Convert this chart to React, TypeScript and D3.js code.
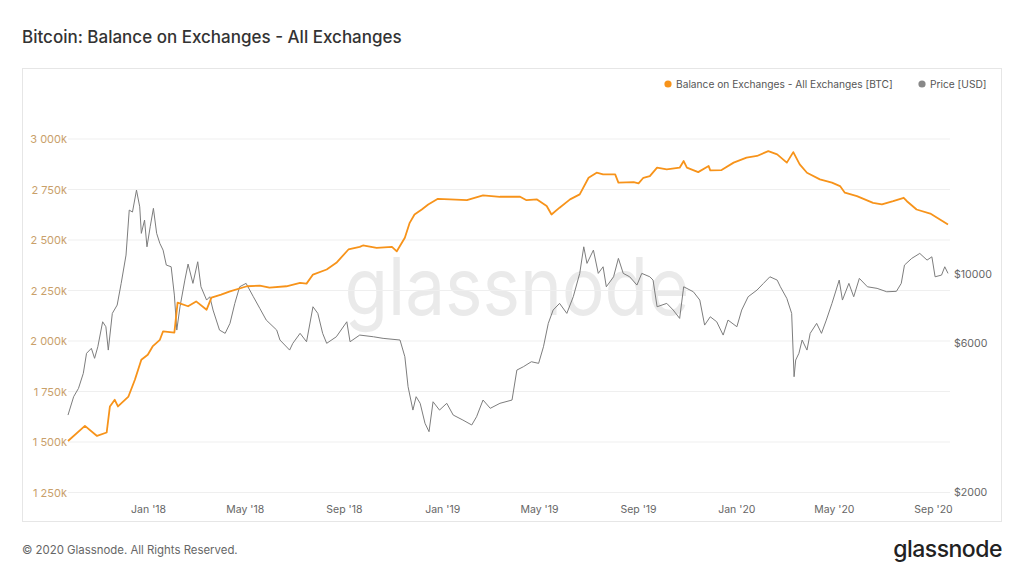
import React from "react";
import * as d3 from "d3";

const balanceDates = ["2017-09-23","2017-10-14","2017-10-29","2017-11-10","2017-11-14","2017-11-20","2017-11-24","2017-12-07","2017-12-15","2017-12-23","2017-12-31","2018-01-06","2018-01-15","2018-01-19","2018-02-02","2018-02-06","2018-02-19","2018-03-01","2018-03-14","2018-03-20","2018-04-01","2018-04-12","2018-05-03","2018-05-19","2018-05-31","2018-06-21","2018-07-08","2018-07-16","2018-07-24","2018-08-10","2018-08-22","2018-09-06","2018-09-20","2018-09-24","2018-10-11","2018-10-30","2018-11-05","2018-11-15","2018-11-21","2018-11-27","2018-12-06","2018-12-14","2018-12-26","2019-01-10","2019-01-31","2019-02-20","2019-03-13","2019-04-07","2019-04-15","2019-04-28","2019-05-10","2019-05-16","2019-05-26","2019-06-08","2019-06-20","2019-07-01","2019-07-11","2019-07-19","2019-08-03","2019-08-07","2019-08-26","2019-09-01","2019-09-07","2019-09-15","2019-09-24","2019-10-06","2019-10-22","2019-10-27","2019-10-31","2019-11-14","2019-11-27","2019-11-29","2019-12-13","2019-12-28","2020-01-13","2020-01-26","2020-02-09","2020-02-20","2020-03-03","2020-03-11","2020-03-19","2020-03-28","2020-04-13","2020-04-28","2020-05-08","2020-05-14","2020-05-29","2020-06-18","2020-06-29","2020-07-13","2020-07-26","2020-07-30","2020-08-11","2020-08-28","2020-09-09","2020-09-19"];
const balanceValues = [1505,1580,1530,1547,1676,1709,1676,1725,1808,1907,1932,1973,2006,2048,2041,2190,2172,2196,2155,2215,2230,2246,2271,2274,2264,2271,2288,2284,2329,2354,2387,2453,2466,2473,2461,2466,2444,2511,2585,2626,2651,2676,2704,2701,2697,2721,2714,2714,2697,2701,2668,2626,2660,2701,2726,2808,2833,2825,2825,2784,2787,2780,2808,2816,2858,2850,2858,2891,2858,2836,2866,2845,2846,2883,2908,2916,2940,2924,2883,2935,2874,2833,2800,2784,2767,2734,2717,2684,2676,2692,2709,2692,2651,2631,2602,2577];

const priceDates = ["2017-09-23","2017-09-30","2017-10-06","2017-10-12","2017-10-16","2017-10-22","2017-10-26","2017-10-30","2017-11-05","2017-11-09","2017-11-12","2017-11-17","2017-11-23","2017-11-28","2017-12-04","2017-12-08","2017-12-12","2017-12-17","2017-12-21","2017-12-23","2017-12-27","2017-12-30","2018-01-03","2018-01-07","2018-01-11","2018-01-15","2018-01-19","2018-01-23","2018-01-29","2018-02-02","2018-02-05","2018-02-09","2018-02-15","2018-02-19","2018-02-25","2018-03-03","2018-03-07","2018-03-14","2018-03-18","2018-03-22","2018-03-30","2018-04-06","2018-04-12","2018-04-18","2018-04-24","2018-05-02","2018-05-11","2018-05-19","2018-05-27","2018-06-09","2018-06-13","2018-06-25","2018-06-29","2018-07-08","2018-07-16","2018-07-24","2018-07-30","2018-08-05","2018-08-10","2018-08-22","2018-09-04","2018-09-08","2018-09-20","2018-10-07","2018-10-19","2018-11-09","2018-11-15","2018-11-19","2018-11-25","2018-11-29","2018-12-04","2018-12-10","2018-12-15","2018-12-20","2018-12-28","2019-01-06","2019-01-14","2019-01-26","2019-02-06","2019-02-12","2019-02-20","2019-03-01","2019-03-13","2019-03-28","2019-04-03","2019-04-11","2019-04-21","2019-04-30","2019-05-06","2019-05-12","2019-05-18","2019-05-26","2019-06-04","2019-06-12","2019-06-20","2019-06-25","2019-06-29","2019-07-07","2019-07-13","2019-07-19","2019-07-23","2019-08-01","2019-08-07","2019-08-13","2019-08-21","2019-08-30","2019-09-05","2019-09-15","2019-09-19","2019-09-24","2019-10-06","2019-10-14","2019-10-22","2019-10-27","2019-11-08","2019-11-16","2019-11-22","2019-11-29","2019-12-07","2019-12-15","2019-12-21","2020-01-01","2020-01-07","2020-01-15","2020-01-26","2020-02-03","2020-02-11","2020-02-20","2020-02-24","2020-03-03","2020-03-09","2020-03-12","2020-03-14","2020-03-18","2020-03-22","2020-03-28","2020-04-01","2020-04-09","2020-04-15","2020-04-21","2020-04-28","2020-05-07","2020-05-11","2020-05-19","2020-05-25","2020-06-01","2020-06-11","2020-06-23","2020-07-05","2020-07-17","2020-07-23","2020-07-27","2020-08-05","2020-08-15","2020-08-24","2020-08-30","2020-09-03","2020-09-11","2020-09-15","2020-09-19"];
const priceValues = [3530,4042,4298,4803,5568,5776,5366,5844,7028,6775,5703,7477,7950,9332,11498,16029,15800,18580,16420,13498,14886,12224,14171,16236,13498,12534,11930,10682,10548,8558,6610,7852,9561,10762,9332,10946,9100,8250,8454,7663,6610,6453,6946,8050,9100,9332,8454,7760,7117,6610,6142,5703,5994,6453,6064,7852,7477,6453,5994,6292,7028,6064,6371,6292,6218,6142,5430,4351,3662,4042,3849,3322,3122,3894,3662,3849,3530,3402,3280,3486,3944,3710,3849,3944,4920,5042,5232,5170,5844,6946,7663,8050,7477,8454,10046,12224,10816,11930,10046,10548,9100,9796,11222,10046,9796,9216,10046,9796,9561,7852,8050,7663,7205,9100,8770,8250,6858,7292,7028,6371,7117,6775,7663,8454,8882,9332,9796,9561,9100,8351,7477,4684,5298,5568,6142,5703,6453,6946,6453,7117,8050,9561,8250,9332,8454,9683,9100,8994,8770,8800,9332,10682,11222,11642,11080,11354,9796,9920,10548,10046];

const leftTicks = [1250, 1500, 1750, 2000, 2250, 2500, 2750, 3000];
const rightTicks = [2000, 6000, 10000];
const dateTicks = ["2018-01-01","2018-05-01","2018-09-01","2019-01-01","2019-05-01","2019-09-01","2020-01-01","2020-05-01","2020-09-01"];

const parse = d3.timeParse("%Y-%m-%d");
const FONT = "Inter, 'Noto Sans', sans-serif";
const ORANGE = "#f7931a";
const GRAY = "#7d7d7d";

export default function App() {
  const x = d3.scaleTime()
    .domain([parse("2017-09-23")!, parse("2020-09-19")!])
    .range([68, 948]);
  const yL = d3.scaleLinear().domain([1250, 3000]).range([492.5, 139]);
  const yR = d3.scaleLog().domain([2000, 10000]).range([492, 274]);

  const balance = d3.zip(balanceDates, balanceValues).map(([d, v]) => [parse(d as string)!, v as number] as [Date, number]);
  const price = d3.zip(priceDates, priceValues).map(([d, v]) => [parse(d as string)!, v as number] as [Date, number]);

  const balLine = d3.line<[Date, number]>().x(d => x(d[0])).y(d => yL(d[1]));
  const priceLine = d3.line<[Date, number]>().x(d => x(d[0])).y(d => yR(d[1]));

  const fmtK = (v: number) => d3.format(",")(v).replace(/,/g, " ") + "k";
  const fmtDate = d3.timeFormat("%b '%y");

  return (
    <svg width={1024} height={576} style={{ position: "absolute", left: 0, top: 0, background: "#fff" }} fontFamily={FONT}>
      <rect x={0} y={0} width={1024} height={576} fill="#fff" />
      <text x={22} y={43} fontSize={17} fill="#333" fontWeight={500}>Bitcoin: Balance on Exchanges - All Exchanges</text>
      <rect x={22.5} y={68.5} width={979} height={453} fill="none" stroke="#e6e6e6" strokeWidth={1} />

      {/* legend */}
      <circle cx={668} cy={84} r={3.6} fill={ORANGE} />
      <text x={676} y={87.5} fontSize={10.2} fill="#555">Balance on Exchanges - All Exchanges [BTC]</text>
      <circle cx={922} cy={84} r={3.6} fill="#888" />
      <text x={930} y={87.5} fontSize={10.2} fill="#555">Price [USD]</text>

      {/* watermark */}
      <text x={517} y={315} fontSize={80} fill="#eaeaea" textAnchor="middle" textLength={345} lengthAdjust="spacingAndGlyphs">glassnode</text>

      {/* grid */}
      {leftTicks.map(t => (
        <line key={t} x1={68} x2={950} y1={yL(t)} y2={yL(t)} stroke="#efefef" strokeWidth={1} />
      ))}
      {leftTicks.map(t => (
        <text key={"l" + t} x={67} y={yL(t) + 4} fontSize={11} fill="#c9a06a" textAnchor="end">{fmtK(t)}</text>
      ))}
      {rightTicks.map(t => (
        <text key={"r" + t} x={954} y={yR(t) + 4} fontSize={10.6} fill="#666">{"$" + t}</text>
      ))}
      {dateTicks.map(t => (
        <text key={t} x={x(parse(t)!)} y={513} fontSize={10.5} fill="#666" textAnchor="middle">{fmtDate(parse(t)!)}</text>
      ))}

      <path d={priceLine(price) || ""} fill="none" stroke={GRAY} strokeWidth={1} strokeLinejoin="round" />
      <path d={balLine(balance) || ""} fill="none" stroke={ORANGE} strokeWidth={1.8} strokeLinejoin="round" />

      {/* footer */}
      <text x={22} y={554} fontSize={11.4} fill="#666">© 2020 Glassnode. All Rights Reserved.</text>
      <text x={1002} y={557} fontSize={23} fill="#222" textAnchor="end" fontWeight={500} letterSpacing={-0.5}>glassnode</text>
    </svg>
  );
}
